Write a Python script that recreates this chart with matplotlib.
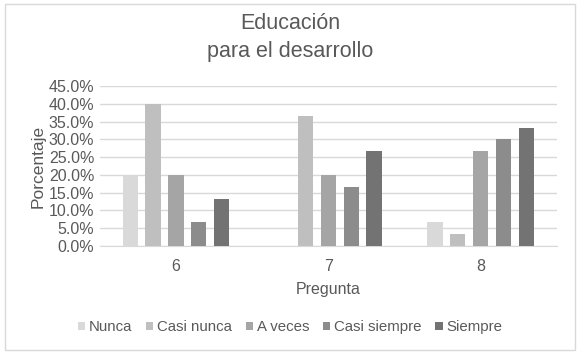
import numpy as np
import matplotlib.pyplot as plt
from matplotlib.patches import Rectangle
from matplotlib.ticker import PercentFormatter

plt.rcParams['font.family'] = ['Liberation Sans', 'DejaVu Sans']

preguntas = ['6', '7', '8']
series = ['Nunca', 'Casi nunca', 'A veces', 'Casi siempre', 'Siempre']
valores = [
    [20.0, 0.0, 6.7],
    [40.0, 36.7, 3.3],
    [20.0, 20.0, 26.7],
    [6.7, 16.7, 30.0],
    [13.3, 26.7, 33.3],
]
colores = ['#d9d9d9', '#bfbfbf', '#a5a5a5', '#8c8c8c', '#737373']
texto = '#595959'

fig = plt.figure(figsize=(5.8, 3.54), dpi=100)
fig.patches.append(Rectangle((0.008, 0.012), 0.984, 0.976, transform=fig.transFigure,
                             fill=False, edgecolor='#d9d9d9', linewidth=1))
ax = fig.add_axes([0.172, 0.305, 0.788, 0.452])

x = np.arange(len(preguntas))
ancho = 0.1
paso = 0.15
for i, (nombre, vals) in enumerate(zip(series, valores)):
    ax.bar(x + (i - 2) * paso, vals, ancho, color=colores[i], label=nombre, zorder=3)

ax.set_xlim(-0.5, 2.5)
ax.set_ylim(0, 45)
ax.set_yticks(np.arange(0, 46, 5))
ax.yaxis.set_major_formatter(PercentFormatter(decimals=1))
ax.set_xticks(x)
ax.set_xticklabels(preguntas)
ax.grid(axis='y', color='#d9d9d9', linewidth=1, zorder=0)
for s in ['top', 'right', 'left']:
    ax.spines[s].set_visible(False)
ax.spines['bottom'].set_color('#d9d9d9')
ax.tick_params(length=0, labelsize=11.5, colors=texto, pad=4)
ax.tick_params(axis='x', pad=9)

ax.set_xlabel('Pregunta', fontsize=11.5, color=texto, labelpad=6)
ax.set_ylabel('Porcentaje', fontsize=12.5, color=texto, labelpad=2)
fig.text(0.5, 0.893, 'Educación\npara el desarrollo', ha='center', va='center',
         fontsize=15.5, color=texto, linespacing=1.45)

ax.legend(loc='center', bbox_to_anchor=(0.5, 0.075), bbox_transform=fig.transFigure,
          ncol=5, frameon=False, fontsize=10.8, labelcolor=texto, handlelength=0.5,
          handleheight=0.5, handletextpad=0.25, columnspacing=0.9)

fig.savefig('out.png', dpi=100)
